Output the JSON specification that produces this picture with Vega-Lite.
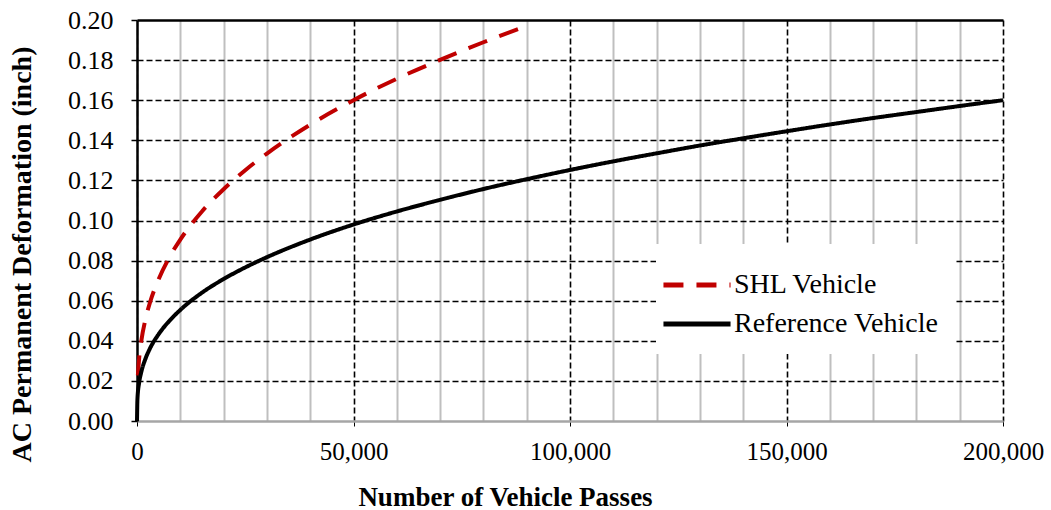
{
  "$schema": "https://vega.github.io/schema/vega-lite/v6.json",
  "width": 866,
  "height": 401,
  "autosize": {"type": "none"},
  "padding": {"left": 137, "top": 20, "right": 48, "bottom": 89},
  "background": "white",
  "config": {
    "view": {"stroke": null},
    "font": "Liberation Serif",
    "axis": {"labelFont": "Liberation Serif", "titleFont": "Liberation Serif"},
    "legend": {"labelFont": "Liberation Serif"}
  },
  "data": {
    "values": [
      {"passes": 200, "deformation": 0.0227, "vehicle": "SHL Vehicle"},
      {"passes": 500, "deformation": 0.0314, "vehicle": "SHL Vehicle"},
      {"passes": 1000, "deformation": 0.0400, "vehicle": "SHL Vehicle"},
      {"passes": 2000, "deformation": 0.0511, "vehicle": "SHL Vehicle"},
      {"passes": 3000, "deformation": 0.0591, "vehicle": "SHL Vehicle"},
      {"passes": 5000, "deformation": 0.0707, "vehicle": "SHL Vehicle"},
      {"passes": 7500, "deformation": 0.0817, "vehicle": "SHL Vehicle"},
      {"passes": 10000, "deformation": 0.0905, "vehicle": "SHL Vehicle"},
      {"passes": 15000, "deformation": 0.1045, "vehicle": "SHL Vehicle"},
      {"passes": 20000, "deformation": 0.1156, "vehicle": "SHL Vehicle"},
      {"passes": 25000, "deformation": 0.1251, "vehicle": "SHL Vehicle"},
      {"passes": 30000, "deformation": 0.1334, "vehicle": "SHL Vehicle"},
      {"passes": 40000, "deformation": 0.1478, "vehicle": "SHL Vehicle"},
      {"passes": 50000, "deformation": 0.1600, "vehicle": "SHL Vehicle"},
      {"passes": 60000, "deformation": 0.1707, "vehicle": "SHL Vehicle"},
      {"passes": 70000, "deformation": 0.1801, "vehicle": "SHL Vehicle"},
      {"passes": 80000, "deformation": 0.1889, "vehicle": "SHL Vehicle"},
      {"passes": 89500, "deformation": 0.1966, "vehicle": "SHL Vehicle"},
      {"passes": 0, "deformation": 0.0, "vehicle": "Reference Vehicle"},
      {"passes": 100, "deformation": 0.0109, "vehicle": "Reference Vehicle"},
      {"passes": 500, "deformation": 0.0192, "vehicle": "Reference Vehicle"},
      {"passes": 1000, "deformation": 0.0245, "vehicle": "Reference Vehicle"},
      {"passes": 2000, "deformation": 0.0313, "vehicle": "Reference Vehicle"},
      {"passes": 3000, "deformation": 0.0362, "vehicle": "Reference Vehicle"},
      {"passes": 5000, "deformation": 0.0433, "vehicle": "Reference Vehicle"},
      {"passes": 7500, "deformation": 0.0500, "vehicle": "Reference Vehicle"},
      {"passes": 10000, "deformation": 0.0554, "vehicle": "Reference Vehicle"},
      {"passes": 15000, "deformation": 0.0640, "vehicle": "Reference Vehicle"},
      {"passes": 20000, "deformation": 0.0708, "vehicle": "Reference Vehicle"},
      {"passes": 25000, "deformation": 0.0766, "vehicle": "Reference Vehicle"},
      {"passes": 30000, "deformation": 0.0817, "vehicle": "Reference Vehicle"},
      {"passes": 40000, "deformation": 0.0905, "vehicle": "Reference Vehicle"},
      {"passes": 50000, "deformation": 0.0980, "vehicle": "Reference Vehicle"},
      {"passes": 60000, "deformation": 0.1045, "vehicle": "Reference Vehicle"},
      {"passes": 70000, "deformation": 0.1103, "vehicle": "Reference Vehicle"},
      {"passes": 80000, "deformation": 0.1157, "vehicle": "Reference Vehicle"},
      {"passes": 90000, "deformation": 0.1206, "vehicle": "Reference Vehicle"},
      {"passes": 100000, "deformation": 0.1252, "vehicle": "Reference Vehicle"},
      {"passes": 110000, "deformation": 0.1295, "vehicle": "Reference Vehicle"},
      {"passes": 120000, "deformation": 0.1335, "vehicle": "Reference Vehicle"},
      {"passes": 130000, "deformation": 0.1374, "vehicle": "Reference Vehicle"},
      {"passes": 140000, "deformation": 0.1410, "vehicle": "Reference Vehicle"},
      {"passes": 150000, "deformation": 0.1445, "vehicle": "Reference Vehicle"},
      {"passes": 160000, "deformation": 0.1479, "vehicle": "Reference Vehicle"},
      {"passes": 170000, "deformation": 0.1511, "vehicle": "Reference Vehicle"},
      {"passes": 180000, "deformation": 0.1541, "vehicle": "Reference Vehicle"},
      {"passes": 190000, "deformation": 0.1571, "vehicle": "Reference Vehicle"},
      {"passes": 200000, "deformation": 0.1600, "vehicle": "Reference Vehicle"}
    ]
  },
  "mark": {"type": "line", "strokeWidth": 4, "interpolate": "monotone", "strokeCap": "butt"},
  "encoding": {
    "x": {
      "field": "passes",
      "type": "quantitative",
      "scale": {"domain": [0, 200000], "nice": false},
      "axis": {
        "title": "Number of  Vehicle Passes",
        "titleFont": "Liberation Serif",
        "titleFontSize": 27,
        "titleFontWeight": "bold",
        "titleColor": "black",
        "titleX": 368,
        "titleY": 84,
        "titleAlign": "center",
        "titleBaseline": "alphabetic",
        "values": [0, 10000, 20000, 30000, 40000, 50000, 60000, 70000, 80000, 90000, 100000, 110000, 120000, 130000, 140000, 150000, 160000, 170000, 180000, 190000, 200000],
        "labelExpr": "datum.value % 50000 === 0 ? format(datum.value, ',') : ''",
        "labelFont": "Liberation Serif",
        "labelFontSize": 25,
        "labelColor": "black",
        "labelPadding": 13,
        "labelFlush": false,
        "labelOverlap": false,
        "ticks": true,
        "tickSize": 5,
        "tickColor": {"condition": {"test": "datum.value % 50000 === 0", "value": "black"}, "value": "transparent"},
        "domainColor": "#a6a6a6",
        "domainWidth": 2.5,
        "grid": true,
        "gridColor": {"condition": {"test": "datum.value % 50000 === 0 && datum.value > 0", "value": "black"}, "value": "#bfbfbf"},
        "gridDash": {"condition": {"test": "datum.value % 50000 === 0", "value": [6, 3]}, "value": []},
        "gridWidth": {"condition": {"test": "datum.value % 50000 === 0", "value": 1.6}, "value": 2}
      }
    },
    "y": {
      "field": "deformation",
      "type": "quantitative",
      "scale": {"domain": [0, 0.2], "nice": false},
      "axis": {
        "title": "AC Permanent Deformation (inch)",
        "titleFont": "Liberation Serif",
        "titleFontSize": 28,
        "titleFontWeight": "bold",
        "titleColor": "black",
        "titleAngle": -90,
        "titleX": -115,
        "titleY": 234,
        "titleAlign": "center",
        "titleBaseline": "middle",
        "values": [0, 0.02, 0.04, 0.06, 0.08, 0.1, 0.12, 0.14, 0.16, 0.18, 0.2],
        "format": ".2f",
        "labelFont": "Liberation Serif",
        "labelFontSize": 26,
        "labelColor": "black",
        "labelPadding": 18,
        "tickSize": 6,
        "tickColor": "black",
        "tickWidth": 1.5,
        "domainColor": "black",
        "domainWidth": 2.5,
        "grid": true,
        "gridColor": {"condition": {"test": "datum.value < 0.001", "value": "transparent"}, "value": "black"},
        "gridDash": {"condition": {"test": "datum.value > 0.199", "value": []}, "value": [6, 3]},
        "gridWidth": {"condition": {"test": "datum.value > 0.199", "value": 2.5}, "value": 1.6}
      }
    },
    "color": {
      "field": "vehicle",
      "type": "nominal",
      "scale": {"domain": ["SHL Vehicle", "Reference Vehicle"], "range": ["#c00000", "black"]},
      "legend": {
        "title": null,
        "orient": "none",
        "legendX": 519,
        "legendY": 224,
        "fillColor": "white",
        "padding": 16,
        "symbolType": "M-1.5,0H1.5",
        "symbolSize": 2000,
        "symbolStrokeWidth": 5,
        "labelFont": "Liberation Serif",
        "labelFontSize": 28,
        "labelColor": "black",
        "labelOffset": 12,
        "rowPadding": 0,
        "labelLimit": 400,
        "offset": 0
      }
    },
    "strokeDash": {
      "field": "vehicle",
      "type": "nominal",
      "scale": {"domain": ["SHL Vehicle", "Reference Vehicle"], "range": [[20, 13], [1, 0]]},
      "legend": null
    }
  }
}
